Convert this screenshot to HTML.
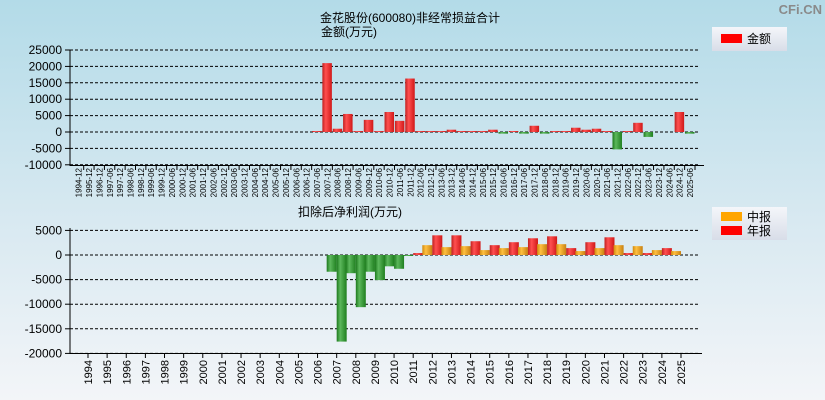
<!DOCTYPE html>
<html><head><meta charset="utf-8"><style>
html,body{margin:0;padding:0;}
body{width:825px;height:400px;overflow:hidden;background:linear-gradient(#b3dbe8,#d8e9f1 55%,#f3f5f8);font-family:"Liberation Sans","Noto Sans CJK SC",sans-serif;}
svg{position:absolute;left:0;top:0;}
</style></head><body>
<svg id="c" width="825" height="400">
<defs>
<linearGradient id="gr" x1="0" x2="1"><stop offset="0" stop-color="#c02020"/><stop offset="0.35" stop-color="#ff5050"/><stop offset="1" stop-color="#d01818"/></linearGradient>
<linearGradient id="gg" x1="0" x2="1"><stop offset="0" stop-color="#1d7a1d"/><stop offset="0.35" stop-color="#5cb85c"/><stop offset="1" stop-color="#1f7f1f"/></linearGradient>
<linearGradient id="go" x1="0" x2="1"><stop offset="0" stop-color="#d08a10"/><stop offset="0.35" stop-color="#ffc040"/><stop offset="1" stop-color="#c88010"/></linearGradient>
<linearGradient id="lg" x1="0" y1="0" x2="0" y2="1"><stop offset="0" stop-color="#f4f6fa"/><stop offset="1" stop-color="#d8dde8"/></linearGradient>
</defs>
<text x="410" y="22" font-size="12" text-anchor="middle" fill="#000">金花股份(600080)非经常损益合计</text>
<text x="321" y="36" font-size="12" fill="#000">金额(万元)</text>
<text x="822" y="14" font-size="13" text-anchor="end" fill="#8a8a8a" font-weight="bold">CFi.CN</text>
<g>
<rect x="712" y="27" width="75" height="24" fill="url(#lg)"/>
<rect x="721" y="34" width="21" height="9" fill="#ff0000"/>
<text x="747" y="43" font-size="12">金额</text>
</g>
<g>
<rect x="712" y="207" width="75" height="33" fill="url(#lg)"/>
<rect x="721" y="212" width="21" height="9" fill="#ffa500"/>
<text x="747" y="221" font-size="12">中报</text>
<rect x="721" y="226" width="21" height="9" fill="#ff0000"/>
<text x="747" y="235" font-size="12">年报</text>
</g>
<text x="350" y="216" font-size="12" text-anchor="middle">扣除后净利润(万元)</text>
<g id="top"></g><g id="bot"></g>
</svg>
<script>
const topCats=["1994-12","1995-12","1996-12","1997-06","1997-12","1998-06","1998-12","1999-06","1999-12","2000-06","2000-12","2001-06","2001-12","2002-06","2002-12","2003-06","2003-12","2004-06","2004-12","2005-06","2005-12","2006-06","2006-12","2007-06","2007-12","2008-06","2008-12","2009-06","2009-12","2010-06","2010-12","2011-06","2011-12","2012-06","2012-12","2013-06","2013-12","2014-06","2014-12","2015-06","2015-12","2016-06","2016-12","2017-06","2017-12","2018-06","2018-12","2019-06","2019-12","2020-06","2020-12","2021-06","2021-12","2022-06","2022-12","2023-06","2023-12","2024-06","2024-12","2025-06"];
const topVals=[0,0,0,0,0,0,0,0,0,0,0,0,0,0,0,0,0,0,0,0,0,0,0,300,21000,1000,5500,300,3700,300,6100,3400,16300,300,300,300,700,300,300,300,700,-500,300,-500,1900,-500,300,300,1300,700,1000,300,-5300,300,2800,-1500,0,0,6100,-500];
const topTicks=[25000,20000,15000,10000,5000,0,-5000,-10000];
const botYears=["1994","1995","1996","1997","1998","1999","2000","2001","2002","2003","2004","2005","2006","2007","2008","2009","2010","2011","2012","2013","2014","2015","2016","2017","2018","2019","2020","2021","2022","2023","2024","2025"];
const botHalf=[null,null,null,null,null,null,null,null,null,null,null,null,null,-3400,-3700,-3400,-2300,-200,2000,1600,1800,1000,1400,1600,2200,2200,800,1400,2000,1800,1000,800];
const botAnnual=[null,null,null,null,null,null,null,null,null,null,null,null,null,-17600,-10600,-5100,-2800,400,4000,4000,2800,2000,2600,3400,3800,1400,2600,3600,400,400,1400,null];
const botTicks=[5000,0,-5000,-10000,-15000,-20000];
const NS="http://www.w3.org/2000/svg";
function mk(p,t,a){const e=document.createElementNS(NS,t);for(const k in a)e.setAttribute(k,a[k]);p.appendChild(e);return e;}
// top chart
const T=document.getElementById('top');
const ty=v=>132-v*(82/25000);
const tx=i=>78.7+i*(611.3/59);
topTicks.forEach(v=>{
 const g=mk(T,'line',{x1:70,x2:700,y1:ty(v),y2:ty(v),stroke:'#000','stroke-dasharray':'3,2','stroke-width':1});
 
 
 mk(T,'line',{x1:65,x2:70,y1:ty(v),y2:ty(v),stroke:'#000'});
 const t=mk(T,'text',{x:62,y:ty(v)+4,'font-size':12,'text-anchor':'end'});t.textContent=v;
 
 
});
mk(T,'line',{x1:70,x2:70,y1:50,y2:166,stroke:'#000'});
mk(T,'line',{x1:70,x2:704,y1:165.5,y2:165.5,stroke:'#000'});
topCats.forEach((c,i)=>{
 const x=tx(i);
 mk(T,'line',{x1:x+5,x2:x+5,y1:166,y2:170,stroke:'#000'});
 const t=mk(T,'text',{x:0,y:0,'font-size':8,'text-anchor':'end',transform:`translate(${x+3},168) rotate(-90)`,fill:'#000'});t.textContent=c;
 
 
 const v=topVals[i];if(!v)return;
 const y0=ty(0),y1=ty(v);
 const r=mk(T,'rect',{x:x-5,y:Math.min(y0,y1),width:9.5,height:Math.max(1,Math.abs(y1-y0)),fill:v>0?'url(#gr)':'url(#gg)'});
 
 
});
// bottom chart
const B=document.getElementById('bot');
const by=v=>255-v*(24.6/5000);
const bx=i=>88+i*(593/31);
botTicks.forEach(v=>{
 const g=mk(B,'line',{x1:70,x2:700,y1:by(v),y2:by(v),stroke:'#000','stroke-dasharray':'3,2'});
 
 
 mk(B,'line',{x1:65,x2:70,y1:by(v),y2:by(v),stroke:'#000'});
 const t=mk(B,'text',{x:62,y:by(v)+4,'font-size':12,'text-anchor':'end'});t.textContent=v;
 
 
});
mk(B,'line',{x1:70,x2:70,y1:228,y2:354,stroke:'#000'});
mk(B,'line',{x1:70,x2:702,y1:353.5,y2:353.5,stroke:'#000'});
botYears.forEach((yv,i)=>{
 const x=bx(i);
 mk(B,'line',{x1:x,x2:x,y1:354,y2:358,stroke:'#000'});
 const t=mk(B,'text',{x:0,y:0,'font-size':11,'text-anchor':'end',transform:`translate(${x+4},360) rotate(-90)`});t.textContent=yv;
 
 
 [[botHalf[i],x-10,'url(#go)'],[botAnnual[i],x,'url(#gr)']].forEach(([v,bx0,fill])=>{
  if(v===null||v===undefined)return;
  const y0=by(0),y1=by(v);
  const r=mk(B,'rect',{x:bx0,y:Math.min(y0,y1),width:10,height:Math.max(1,Math.abs(y1-y0)),fill:v<0?'url(#gg)':fill});
  
  
 });
});
</script>
</body></html>
